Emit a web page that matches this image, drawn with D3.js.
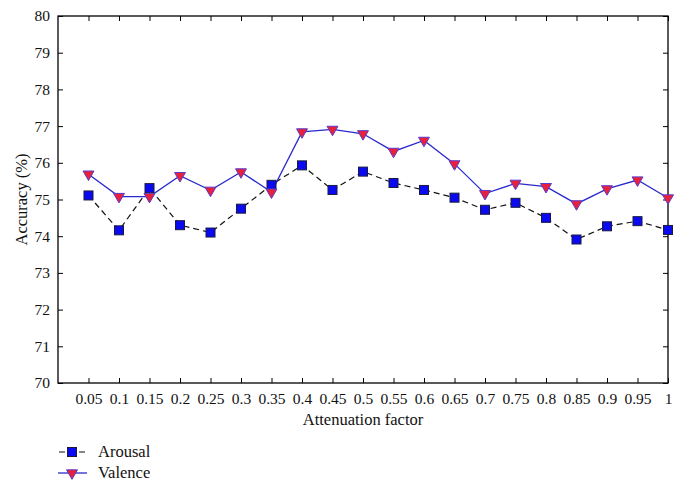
<!DOCTYPE html>
<html><head><meta charset="utf-8">
<script src="https://cdn.jsdelivr.net/npm/d3@7"></script>
<style>body{margin:0;background:#fff}svg{display:block}</style>
</head><body>
<script>
const categories = ["0.05","0.1","0.15","0.2","0.25","0.3","0.35","0.4","0.45","0.5","0.55","0.6","0.65","0.7","0.75","0.8","0.85","0.9","0.95","1"];
const arousal = [75.11,74.16,75.31,74.30,74.10,74.75,75.40,75.93,75.26,75.76,75.45,75.26,75.05,74.72,74.91,74.50,73.91,74.27,74.41,74.17];
const valence = [75.69,75.08,75.08,75.65,75.25,75.75,75.20,76.84,76.91,76.79,76.31,76.61,75.97,75.16,75.44,75.35,74.88,75.29,75.53,75.04];
const yTicks = [70,71,72,73,74,75,76,77,78,79,80];
const seriesNames = ["Arousal","Valence"];

const FONT="'Liberation Serif'";
const W=684,H=490;
const L=58,R=668,T=16,B=383;
const svg=d3.select("body").append("svg").attr("width",W).attr("height",H);
const x=d3.scaleLinear().domain([-1,categories.length-1]).range([L,R]);
const y=d3.scaleLinear().domain([70,80]).range([B,T]);
const idx=categories.map((c,i)=>i);

svg.append("rect").attr("x",L).attr("y",T).attr("width",R-L).attr("height",B-T)
  .attr("fill","none").attr("stroke","#000").attr("stroke-width",1.3);

const tl=5;
const styleText=g=>{g.select(".domain").remove();g.selectAll("text").style("font-family",FONT).style("font-size","15.5px").attr("fill","#111");};
svg.append("g").attr("transform",`translate(0,${B})`)
  .call(d3.axisBottom(x).tickValues(idx).tickFormat(i=>categories[i]).tickSizeInner(-tl).tickSizeOuter(0).tickPadding(10))
  .call(styleText);
svg.append("g").attr("transform",`translate(0,${T})`)
  .call(d3.axisTop(x).tickValues(idx).tickFormat("").tickSizeInner(-tl).tickSizeOuter(0))
  .call(g=>g.select(".domain").remove());
svg.append("g").attr("transform",`translate(${L},0)`)
  .call(d3.axisLeft(y).tickValues(yTicks).tickFormat(d3.format("d")).tickSizeInner(-tl).tickSizeOuter(0).tickPadding(8))
  .call(styleText);
svg.append("g").attr("transform",`translate(${R},0)`)
  .call(d3.axisRight(y).tickValues(yTicks).tickFormat("").tickSizeInner(-tl).tickSizeOuter(0))
  .call(g=>g.select(".domain").remove());
svg.selectAll(".tick line").attr("stroke","#000").attr("stroke-width",1);

function label(g,xx,yy,txt,anchor){return g.append("text").attr("x",xx).attr("y",yy).attr("text-anchor",anchor||"start")
  .style("font-family",FONT).style("font-size","16.5px").attr("fill","#111").text(txt);}
label(svg,(L+R)/2,425,"Attenuation factor","middle");
svg.append("text").attr("transform",`translate(27,${(T+B)/2}) rotate(-90)`).attr("text-anchor","middle")
  .style("font-family",FONT).style("font-size","16.5px").attr("fill","#111").text("Accuracy (%)");

const line=d3.line().x((d,i)=>x(i)).y(d=>y(d));
svg.append("path").datum(arousal).attr("d",line).attr("fill","none").attr("stroke","#111").attr("stroke-width",1.2).attr("stroke-dasharray","6,4");
svg.append("path").datum(valence).attr("d",line).attr("fill","none").attr("stroke","#2a2acc").attr("stroke-width",1.3);

const sq=9;
const tri=d3.symbol().type(d3.symbolTriangle).size(52);
function square(g,cx,cy){g.append("rect").attr("x",cx-sq/2).attr("y",cy-sq/2).attr("width",sq).attr("height",sq).attr("fill","#0a0af0").attr("stroke","#1a1a40").attr("stroke-width",1);}
function triangle(g,cx,cy){g.append("path").attr("d",tri).attr("transform",`translate(${cx},${cy}) rotate(180)`).attr("fill","#e8203c").attr("stroke","#5a3acc").attr("stroke-width",1);}
const mg=svg.append("g");
arousal.forEach((v,i)=>square(mg,x(i),y(v)));
valence.forEach((v,i)=>triangle(mg,x(i),y(v)));

const lg=svg.append("g");
lg.append("line").attr("x1",58).attr("x2",87).attr("y1",452).attr("y2",452).attr("stroke","#111").attr("stroke-width",1.2).attr("stroke-dasharray","6,4").attr("stroke-dashoffset",-1);
square(lg,72,452);
label(lg,98,457,seriesNames[0]);
lg.append("line").attr("x1",58).attr("x2",87).attr("y1",473).attr("y2",473).attr("stroke","#2a2acc").attr("stroke-width",1.3);
triangle(lg,72,473);
label(lg,98,478,seriesNames[1]);
</script>
</body></html>
